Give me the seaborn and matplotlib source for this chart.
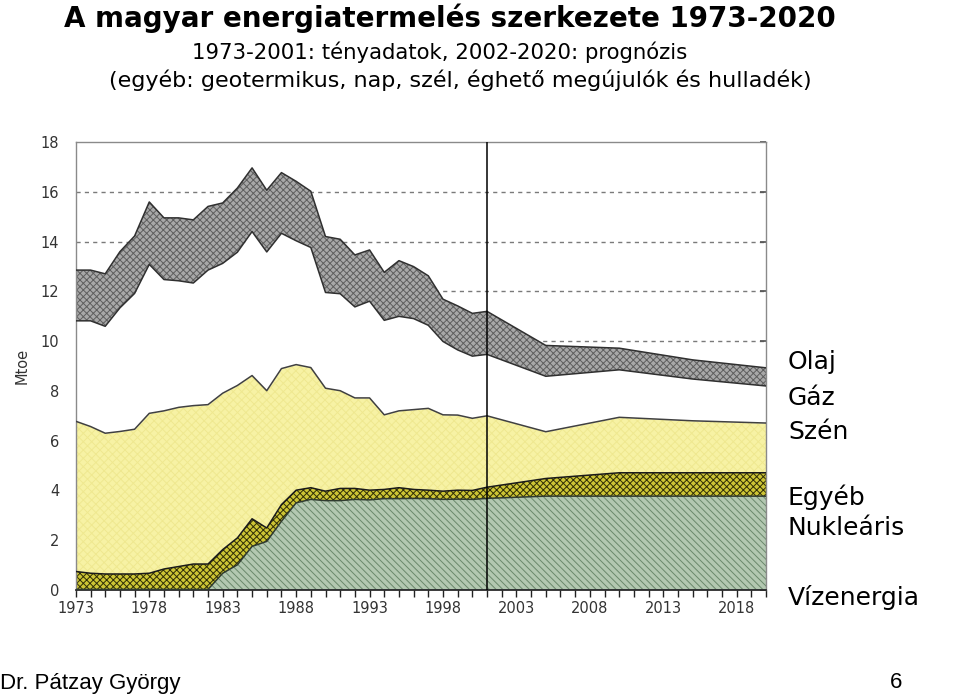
import matplotlib.pyplot as plt
import numpy as np
import pandas as pd
import seaborn as sns

# years with data: 1973-2001 facts, then forecast points
years = [1973, 1974, 1975, 1976, 1977, 1978, 1979, 1980, 1981, 1982,
         1983, 1984, 1985, 1986, 1987, 1988, 1989, 1990, 1991, 1992,
         1993, 1994, 1995, 1996, 1997, 1998, 1999, 2000, 2001,
         2005, 2010, 2015, 2020]

# Mtoe (bottom to top of the stack)
vizenergia = [0.02, 0.02, 0.02, 0.02, 0.02, 0.02, 0.02, 0.02, 0.02, 0.02,
              0.02, 0.02, 0.02, 0.02, 0.02, 0.02, 0.02, 0.02, 0.02, 0.02,
              0.02, 0.02, 0.02, 0.02, 0.02, 0.02, 0.02, 0.02, 0.02,
              0.02, 0.02, 0.02, 0.02]
nuklearis = [0, 0, 0, 0, 0, 0, 0, 0, 0, 0,
             0.65, 0.99, 1.73, 1.93, 2.74, 3.48, 3.62, 3.57, 3.57, 3.62,
             3.60, 3.65, 3.65, 3.66, 3.65, 3.62, 3.63, 3.62, 3.66,
             3.75, 3.75, 3.75, 3.75]
egyeb = [0.72, 0.65, 0.62, 0.62, 0.62, 0.65, 0.82, 0.92, 1.02, 1.02,
         0.95, 1.08, 1.11, 0.54, 0.67, 0.51, 0.47, 0.38, 0.49, 0.44,
         0.39, 0.37, 0.44, 0.36, 0.34, 0.33, 0.36, 0.36, 0.45,
         0.71, 0.94, 0.94, 0.94]
szen = [6.04, 5.90, 5.66, 5.73, 5.82, 6.43, 6.36, 6.40, 6.37, 6.41,
        6.29, 6.13, 5.76, 5.52, 5.47, 5.05, 4.83, 4.14, 3.93, 3.64,
        3.71, 3.00, 3.09, 3.21, 3.29, 3.07, 3.02, 2.90, 2.87,
        1.88, 2.23, 2.09, 2.00]
gaz = [4.04, 4.25, 4.30, 4.97, 5.46, 5.99, 5.28, 5.09, 4.93, 5.41,
       5.22, 5.36, 5.79, 5.58, 5.44, 4.98, 4.83, 3.85, 3.90, 3.66,
       3.89, 3.80, 3.80, 3.66, 3.34, 2.95, 2.62, 2.50, 2.47,
       2.23, 1.91, 1.68, 1.49]
olaj = [2.04, 2.04, 2.11, 2.26, 2.31, 2.51, 2.48, 2.53, 2.54, 2.56,
        2.43, 2.58, 2.56, 2.48, 2.44, 2.39, 2.26, 2.25, 2.19, 2.09,
        2.06, 1.93, 2.24, 2.09, 1.99, 1.70, 1.77, 1.72, 1.73,
        1.24, 0.87, 0.77, 0.73]

df = pd.DataFrame({"Vízenergia": vizenergia, "Nukleáris": nuklearis,
                   "Egyéb": egyeb, "Szén": szen, "Gáz": gaz, "Olaj": olaj},
                  index=years)
tops = df.cumsum(axis=1)

sns.set_theme(style="white")
plt.rcParams['font.family'] = ['DejaVu Sans']
plt.rcParams['hatch.linewidth'] = 0.7

fig = plt.figure(figsize=(9.6, 6.94), dpi=100)
ax = fig.add_axes([0.079, 0.150, 0.719, 0.645])

# face colour, hatch, hatch colour
styles = {
    "Vízenergia": ("#7f9fbf", None, "#7f9fbf"),
    "Nukleáris": ("#b3c8b1", "\\\\\\\\\\", "#6a886b"),
    "Egyéb": ("#cdc535", "xxxxx", "#302e06"),
    "Szén": ("#f7f2a4", "xxxx", "#efe890"),
    "Gáz": ("#ffffff", None, "#ffffff"),
    "Olaj": ("#a8a8a8", "xxxxx", "#5e5e5e"),
}

for y in range(2, 18, 2):
    ax.axhline(y, color="#7a7a7a", lw=1, ls=(0, (3, 3)), zorder=0)

x = np.array(years)
bottom = np.zeros(len(years))
for col in df.columns:
    face, hatch, hcol = styles[col]
    ax.fill_between(x, bottom, tops[col].values, facecolor=face,
                    edgecolor=hcol, hatch=hatch, linewidth=0, zorder=2)
    bottom = tops[col].values

line_colors = {"Nukleáris": "#2f3a2f", "Egyéb": "#1a1a1a", "Szén": "#404040",
               "Gáz": "#303030", "Olaj": "#303030"}
for col, c in line_colors.items():
    sns.lineplot(x=x, y=tops[col].values, color=c, lw=1.1, ax=ax, zorder=3)

ax.axvline(2001, color="black", lw=1.1, zorder=4)

ax.set_xlim(1973, 2020)
ax.set_ylim(0, 18)
ax.set_xticks(range(1973, 2020, 5))
ax.set_xticks(range(1973, 2021), minor=True)
ax.set_yticks(range(0, 19, 2))
ax.tick_params(axis="x", which="both", bottom=True, direction="out",
               length=5, width=1, color="#222222", labelsize=10.5,
               labelcolor="#333333", pad=3)
ax.tick_params(axis="y", left=False, right=True, direction="in", length=4,
               color="#555555", labelsize=10.5, labelcolor="#333333", pad=12)
for s in ["left", "top", "right"]:
    ax.spines[s].set_color("#8a8a8a")
    ax.spines[s].set_linewidth(1)
ax.spines["bottom"].set_color("#222222")
ax.set_xlabel("")
ax.set_ylabel("Mtoe", fontsize=10.5, color="#333333", labelpad=8)

fig.text(0.469, 0.973, "A magyar energiatermelés szerkezete 1973-2020",
         ha="center", va="center", fontsize=20, fontweight="bold",
         color="black")
fig.text(0.458, 0.925, "1973-2001: tényadatok, 2002-2020: prognózis",
         ha="center", va="center", fontsize=15.3, color="black")
fig.text(0.479, 0.884,
         "(egyéb: geotermikus, nap, szél, éghető megújulók és hulladék)",
         ha="center", va="center", fontsize=16, color="black")

legend_items = [("Olaj", 362), ("Gáz", 398), ("Szén", 432),
                ("Egyéb", 497), ("Nukleáris", 528), ("Vízenergia", 598)]
for name, ypix in legend_items:
    fig.text(788 / 960, 1 - ypix / 694, name, ha="left", va="center",
             fontsize=18, color="black")

fig.text(0.0, 1 - 683 / 694, "Dr. Pátzay György", ha="left", va="center",
         fontsize=16, family="Liberation Sans", color="black")
fig.text(902 / 960, 1 - 683 / 694, "6", ha="right", va="center",
         fontsize=16, family="Liberation Sans", color="black")

fig.savefig("out.png", dpi=100)
